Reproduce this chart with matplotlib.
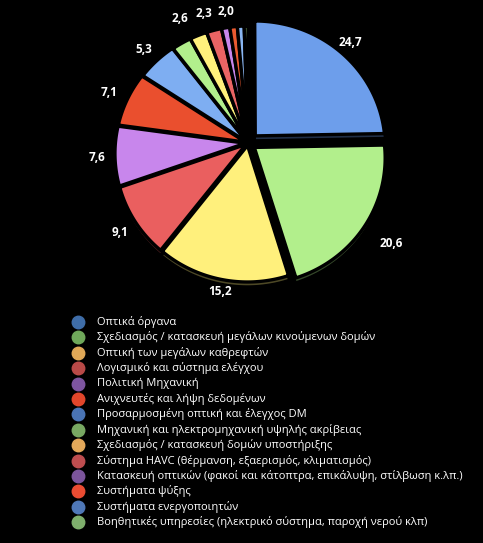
import numpy as np
import matplotlib.pyplot as plt
from matplotlib.colors import to_rgb

# Τιμές (%) των τομέων, δεξιόστροφα από τις 12
values = [24.7, 20.6, 15.2, 9.1, 7.6, 7.1, 5.3, 2.6, 2.3, 2.0, 1.1, 1.0, 0.9, 0.5]
value_labels = ['24,7', '20,6', '15,2', '9,1', '7,6', '7,1', '5,3', '2,6', '2,3', '2,0',
                '', '', '', '']
categories = [
    'Οπτικά όργανα',
    'Σχεδιασμός / κατασκευή μεγάλων κινούμενων δομών',
    'Οπτική των μεγάλων καθρεφτών',
    'Λογισμικό και σύστημα ελέγχου',
    'Πολιτική Μηχανική',
    'Ανιχνευτές και λήψη δεδομένων',
    'Προσαρμοσμένη οπτική και έλεγχος DM',
    'Μηχανική και ηλεκτρομηχανική υψηλής ακρίβειας',
    'Σχεδιασμός / κατασκευή δομών υποστήριξης',
    'Σύστημα HAVC (θέρμανση, εξαερισμός, κλιματισμός)',
    'Κατασκευή οπτικών (φακοί και κάτοπτρα, επικάλυψη, στίλβωση κ.λπ.)',
    'Συστήματα ψύξης',
    'Συστήματα ενεργοποιητών',
    'Βοηθητικές υπηρεσίες (ηλεκτρικό σύστημα, παροχή νερού κλπ)',
]

slice_colors = ['#6d9eeb', '#b2ef8c', '#fff07c', '#ea5f5f', '#c886ec', '#ea4f2e', '#7eaef2',
                '#b2ef8c', '#fff07c', '#ea6464', '#c886ec', '#ea5a30', '#8ab6f2', '#b2ef8c']
legend_colors = ['#3f6da8', '#6fa85a', '#e0a857', '#b94a48', '#7e55a0', '#e2462b', '#4a74b5',
                 '#78a862', '#e3a85a', '#be4d4f', '#7c559c', '#eb4c32', '#4f78b8', '#7eaf6c']

explode = [0.08, 0.06, 0.02, 0.02, 0.02, 0.02, 0.015, 0.01, 0.01, 0.01, 0.01, 0.01, 0.01, 0.01]
label_dist = [1.2, 1.28, 1.1, 1.15, 1.16, 1.18, 1.16, 1.22, 1.19, 1.16, 1, 1, 1, 1]
label_shift = [0, 0, 0, 0, 0, 0, 0, -5, -6, -7, 0, 0, 0, 0]   # μοίρες

W, H = 483, 543
fig = plt.figure(figsize=(W / 100, H / 100), dpi=100, facecolor='black')
ax = fig.add_axes([0, 0, 1, 1])
ax.set_facecolor('black')

# "3Δ" προοπτική της πίτας (σε pixel)
cx, cy, R = 248, 143, 130
tilt, persp = 0.963, 0.08


def project(u, v, drop=0.0):
    s = 1.0 / (1.0 + persp * v)
    return cx + R * u * s, cy - R * tilt * v * s + drop


wedges, _ = ax.pie(values, startangle=90, counterclock=False, explode=explode)
shapes = []
for w in wedges:
    t = np.deg2rad(np.linspace(w.theta1, w.theta2, 120))
    x0, y0 = w.center
    u = np.concatenate([[x0], x0 + w.r * np.cos(t)])
    v = np.concatenate([[y0], y0 + w.r * np.sin(t)])
    shapes.append((u, v))
    w.remove()

# σκούρο "πλευρικό" τμήμα
for (u, v), col in zip(shapes, slice_colors):
    X, Y = project(u, v, drop=4)
    dark = tuple(c * 0.3 for c in to_rgb(col))
    ax.fill(X, Y, facecolor=dark, edgecolor='black', linewidth=1)

for (u, v), col in zip(shapes, slice_colors):
    X, Y = project(u, v)
    ax.fill(X, Y, facecolor=col, edgecolor='black', linewidth=2.4)

for w, lab, d, sh in zip(wedges, value_labels, label_dist, label_shift):
    if not lab:
        continue
    ang = np.deg2rad((w.theta1 + w.theta2) / 2 + sh)
    tx, ty = project(d * np.cos(ang), d * np.sin(ang))
    ax.text(tx, ty, lab, color='white', fontsize=8.5, fontweight='bold',
            ha='center', va='center', family='Open Sans')

ax.set_aspect('auto')
ax.set_xlim(0, W)
ax.set_ylim(H, 0)
ax.axis('off')

# υπόμνημα
y0, dy = 322, 15.4
for i, (name, col) in enumerate(zip(categories, legend_colors)):
    y = y0 + i * dy
    ax.plot([78], [y], marker='o', markersize=9, color=col, linestyle='none')
    ax.text(97, y, name, color='white', fontsize=8.05, va='center', ha='left',
            family='Open Sans')

fig.savefig('out.png', dpi=100, facecolor='black')
